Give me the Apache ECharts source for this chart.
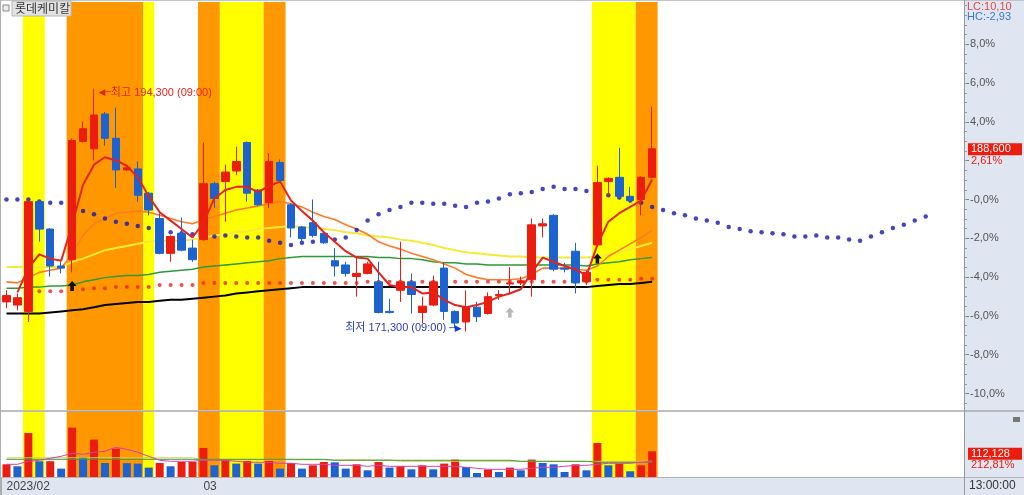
<!DOCTYPE html>
<html><head><meta charset="utf-8">
<script src="https://cdn.jsdelivr.net/npm/echarts@6/dist/echarts.min.js"></script>
<style>html,body{margin:0;padding:0;background:#fff}#c{width:1024px;height:495px}</style>
</head><body><div id="c"></div>
<script>
// ---------------- data ----------------
const stockName = '롯데케미칼';
const basePrice = 183800;           // 0% reference price
const slotCount = 88;               // visible category slots (incl. future area)
const monthLabels = [[0, '2023/02'], [18, '03']];
const pctTicks = [8, 6, 4, 2, 0, -2, -4, -6, -8, -10];
const hiddenPctLabels = [2];

const open = [174100,173800,173200,183600,181000,177500,178100,189300,188600,191900,
  189600,186600,186700,184400,182000,178700,180600,179200,180000,185300,
  185500,186500,189200,184700,183500,187300,183300,181200,181600,180600,
  178000,177600,176500,176800,176000,173200,175200,176000,173100,173800,
  177300,173200,172200,173600,173000,174700,175800,175900,176200,181300,
  182300,177300,178900,176000,179500,185500,185900,184100,183800,185900];
const close = [174700,174500,183600,181000,177500,177300,189400,190500,191800,189600,
  186600,186800,184200,182800,178700,180300,179000,178100,185300,183900,
  186400,187400,184400,183300,187400,185600,181100,180100,180400,179700,
  177500,176800,176800,177700,173100,173100,176000,174800,173700,176000,
  173200,172100,173600,172700,174600,174800,175900,176100,181400,181500,
  177200,177200,175900,176900,185400,185800,184100,183700,185900,188600];
const low = [173500,173300,172200,179800,176500,176800,176900,189200,187500,188900,
  184900,186500,183600,182300,178600,177900,178900,177900,179900,183000,
  181700,186100,183600,183200,183000,185500,180200,179700,180200,179600,
  176500,176500,174600,176700,173000,173000,174100,173000,172100,173700,
  172400,171600,171300,172200,172900,174300,174900,175700,174600,180200,
  177000,176900,174900,175700,179400,184200,183800,183500,182300,185800];
const high = [175200,174900,183700,183700,181100,177900,189600,191200,194300,192100,
  192500,187000,187400,184500,182500,180400,182100,180000,189200,185500,
  187100,188800,189300,184800,188200,187600,183400,181300,183800,180800,
  179200,177900,178300,177900,177900,174400,179800,176800,174600,176600,
  177800,173300,175200,174100,175000,175200,177400,176500,182000,182000,
  182400,177800,179700,177100,187000,185900,188700,185000,186000,192600];

const ma5 = [null,175000,177300,178600,178200,178000,181400,185200,187100,187800,
  187500,187000,185900,184100,182600,181800,181000,180200,181600,183900,
  184700,185000,185000,184500,185100,185500,183700,182700,181800,180700,
  179800,178900,178300,178200,176900,175700,175500,175500,174900,175000,
  174300,173800,173600,173800,174100,174600,174900,175300,176900,178300,
  177900,177500,177200,176600,179500,181700,182500,183100,183700,185700];
const ma10 = [176000,175900,176400,176900,177100,177300,178600,180400,181500,182000,
  182500,182600,182700,182600,182300,182000,181700,181500,181900,182200,
  182500,182800,183000,183200,183400,183600,183400,183100,182600,182200,
  181900,181400,181000,180500,179800,179400,179100,178700,178400,178100,
  177700,177300,176700,176400,176200,176200,176200,176300,176700,177300,
  177300,177300,177200,177100,177500,178400,179000,179600,180200,180900];
const ma20 = [177400,177400,177400,177400,177400,177400,177900,178200,178600,179000,
  179200,179400,179600,179800,179900,179900,179900,180000,180200,180400,
  180500,180700,180800,181000,181100,181200,181300,181200,181100,181000,
  180900,180700,180600,180400,180300,180200,180000,179900,179700,179500,
  179200,179000,178800,178700,178600,178500,178400,178400,178300,178300,
  178300,178300,178300,178300,178400,178600,178800,179100,179400,179700];
const ma60 = [175400,175400,175500,175500,175600,175600,175700,176000,176200,176400,
  176500,176600,176600,176700,176900,177000,177100,177200,177400,177500,
  177600,177700,177800,177900,178000,178200,178300,178400,178400,178400,
  178400,178400,178400,178400,178300,178300,178200,178200,178100,177900,
  177800,177800,177700,177700,177600,177600,177600,177600,177600,177600,
  177600,177600,177600,177500,177700,177800,177900,178100,178200,178300];
const ma120 = [173000,173000,173000,173000,173100,173200,173300,173400,173600,173800,
  173900,174000,174100,174100,174200,174300,174300,174400,174500,174600,
  174700,174900,175000,175100,175200,175300,175400,175500,175500,175500,
  175500,175500,175500,175500,175500,175500,175500,175500,175500,175500,
  175500,175500,175500,175500,175500,175500,175500,175500,175500,175500,
  175500,175500,175500,175500,175600,175700,175800,175800,175900,176000];
const redDots = [null,null,null,175100,175100,175100,175300,175300,175400,175400,
  175500,175500,175500,175500,175700,175700,175700,175700,175900,175900,
  175900,175900,175900,175900,175900,175900,175900,175900,175900,175900,
  175900,175900,175900,176000,176000,176000,176000,176000,176000,176000,
  176000,176000,176000,176000,176000,176000,176000,176000,176000,176000,
  176000,176000,176000,176000,176200,176200,176200,176200,176300,176300];
const blueDots = [183800,183800,183800,183600,183500,183500,183100,182700,182400,182000,
  181700,181500,181300,181100,180900,180700,180600,180500,180400,180300,
  180400,180300,180200,180200,179900,179700,179500,179700,179800,180000,
  180000,180200,180900,181800,182400,182800,183100,183500,183500,183400,
  183400,183200,183100,183500,183600,183900,184300,184400,184500,184800,
  185000,184800,184800,184600,184400,184200,184000,183700,183500,183100,
  182800,182500,182300,182000,181800,181600,181200,181000,180800,180700,
  180600,180500,180300,180300,180400,180200,180200,180000,179900,180300,
  180700,181100,181400,181800,182200];

const volume = [55400,46700,192000,68500,69000,36600,215500,87300,163200,61100,
  123900,60500,58500,41000,61100,46700,65400,66000,126500,51000,
  75900,58500,69800,58500,69800,36600,61100,36600,51000,65400,
  64000,36600,55400,29200,65400,41000,46700,33600,51000,33600,
  58500,75900,43600,17500,32300,21800,41000,29200,75900,61100,
  55400,21800,55400,29200,148300,51000,58500,24900,51000,112128];
const volMaA = [55400,55400,68500,72900,81600,90300,103400,99000,107800,112100,
  129600,120900,107800,90300,72900,68500,68500,68500,72900,72900,
  72900,68500,64100,64100,64100,59800,59800,55400,55400,55400,
  51000,51000,51000,46700,51000,46700,46700,46700,46700,46700,
  46700,46700,42300,38000,33600,33600,33600,33600,38000,42300,
  42300,46700,51000,51000,55400,59800,59800,59800,64100,68500];
const volMaB = [77200,77200,77200,77200,77200,77200,77200,77200,77200,77200,
  77200,77200,77200,77200,77200,77200,77200,77200,77200,77200,
  77200,77200,77200,77200,77200,77200,77200,77200,77200,77200,
  72900,72900,72900,72900,72900,72900,72900,72900,72900,72900,
  72900,72900,72900,72900,72900,72900,72900,68500,68500,68500,
  68500,68500,68500,68500,64100,64100,64100,64100,64100,64100];
const volMaC = [83800,83800,83800,83800,83800,83800,83800,83800,83800,83800,
  83800,83800,83800,83800,83800,83800,83800,83800,75000,75000,
  75000,75000,75000,75000,75000,75000,75000,75000,75000,75000,
  75000,75000,75000,75000,75000,75000,68500,68500,68500,68500,
  68500,68500,68500,68500,68500,68500,68500,68500,68500,68500,
  68500,68500,68500,68500,68500,68500,68500,68500,68500,68500];

// [startIndex, endIndex, kind]
const bands = [[2,3,'y'],[6,12,'o'],[13,13,'y'],[18,19,'o'],[20,23,'y'],[24,25,'o'],[54,57,'y'],[58,59,'o']];
const highMark = {index: 8, price: 194300, text: '최고 194,300 (09:00)'};
const lowMark = {index: 42, price: 171300, text: '최저 171,300 (09:00)'};
const signals = [[6, 175600, 'b'], [54, 178200, 'b'], [46, 173100, 'g']];
const lastPriceText = ['188,600', '2,61%'];
const lastVolText = ['112,128', '212,81%'];
const infoTexts = ['LC:10,10', 'HC:-2,93'];
const timeText = '13:00:00';

// ---------------- chart ----------------
const RED = '#ec1c0e', BLUE = '#1c62d0';
const FONT = "'Liberation Sans', 'Noto Sans CJK KR', sans-serif";
const bandColors = {y: '#ffff00', o: '#ff9800'};
const categories = Array.from({length: slotCount}, (_, i) => String(i));
const labelMap = {}; monthLabels.forEach(m => labelMap[m[0]] = m[1]);
const yMin = 163860, yMax = 202510, volMax = 288000;
const pctToPrice = p => basePrice * (1 + p / 100);
const majorVals = pctTicks.map(pctToPrice);
const labelVals = pctTicks.filter(p => hiddenPctLabels.indexOf(p) < 0).map(pctToPrice);
const minorVals = [];
for (let p = -10.5; p <= 10; p += 0.5) minorVals.push(pctToPrice(p));
const fmtPct = v => {
  const r = Math.round((v / basePrice - 1) * 1000) / 10;
  return (r <= 0 ? '-' : '') + Math.abs(r).toFixed(1).replace('.', ',') + '%';
};

function bandItem(params, api) {
  const b = bands[params.dataIndex];
  const w = api.size([1, 0])[0];
  const x0 = api.coord([b[0], 0])[0] - w / 2;
  const x1 = api.coord([b[1], 0])[0] + w / 2;
  const cs = params.coordSys;
  return {type: 'rect', shape: {x: x0, y: cs.y, width: x1 - x0, height: cs.height},
    style: {fill: bandColors[b[2]]}};
}
const arrowPath = 'path://M5,0 L10,5 L7,5 L7,10 L3,10 L3,5 L0,5 Z';
const hidden = 'rgba(0,0,0,0)';

const candleData = open.map((o, i) => [o, close[i], low[i], high[i]]);
const volData = volume.map((v, i) => ({
  value: v,
  itemStyle: {color: (i === 0 || v > volume[i - 1]) ? RED : BLUE}
}));
const tagRich = {
  a: {backgroundColor: RED, color: '#fff', fontSize: 11, width: 48, height: 12, lineHeight: 12,
    padding: [0, 3], fontFamily: FONT},
  b: {color: RED, fontSize: 11, lineHeight: 11, padding: [0, 0, 0, 3], fontFamily: FONT}
};
const arrowFont = "'DejaVu Sans', sans-serif";

const option = {
  animation: false,
  textStyle: {fontFamily: FONT},
  grid: [
    {left: 1, top: 2, width: 963, height: 408},
    {left: 1, top: 411, width: 963, height: 66}
  ],
  xAxis: [
    {type: 'category', gridIndex: 0, data: categories, boundaryGap: true,
      axisLine: {show: false}, axisTick: {show: false}, axisLabel: {show: false}, splitLine: {show: false}},
    {type: 'category', gridIndex: 1, data: categories, boundaryGap: true,
      axisLine: {show: false},
      axisTick: {show: true, alignWithLabel: false, length: 18,
        interval: (idx) => idx === 18, lineStyle: {color: '#a8a8a8'}},
      axisLabel: {show: true, interval: 0, align: 'left', margin: 4, color: '#444', fontSize: 12,
        formatter: (v, i) => labelMap[i] || ''},
      splitLine: {show: false}}
  ],
  yAxis: [
    {type: 'value', gridIndex: 0, position: 'right', min: yMin, max: yMax,
      axisLine: {show: true, lineStyle: {color: '#9a9a9a'}},
      splitLine: {show: false},
      axisTick: {show: true, customValues: majorVals, length: 5, lineStyle: {color: '#777'}},
      axisLabel: {show: true, customValues: labelVals, formatter: fmtPct, margin: 6,
        color: '#555', fontSize: 11, fontFamily: FONT}},
    {type: 'value', gridIndex: 1, position: 'right', min: 0, max: volMax,
      axisLine: {show: true, lineStyle: {color: '#9a9a9a'}},
      splitLine: {show: false}, axisTick: {show: false}, axisLabel: {show: false}},
    {type: 'value', gridIndex: 0, position: 'right', min: yMin, max: yMax,
      axisLine: {show: false}, splitLine: {show: false},
      axisTick: {show: true, customValues: minorVals, length: 3, lineStyle: {color: '#999'}},
      axisLabel: {show: false}}
  ],
  series: [
    {type: 'custom', xAxisIndex: 0, yAxisIndex: 0, renderItem: bandItem, silent: true, z: 0,
      data: bands.map(b => [b[0], b[1]])},
    {type: 'custom', xAxisIndex: 1, yAxisIndex: 1, renderItem: bandItem, silent: true, z: 0,
      data: bands.map(b => [b[0], b[1]])},
    {name: 'MA120', type: 'line', data: ma120, symbol: 'none', z: 3,
      lineStyle: {color: '#000', width: 2}},
    {name: 'MA60', type: 'line', data: ma60, symbol: 'none', z: 3,
      lineStyle: {color: '#2c9a35', width: 1.5}},
    {name: 'MA20', type: 'line', data: ma20, symbol: 'none', z: 3,
      lineStyle: {color: '#f4ea3a', width: 2}},
    {name: 'MA10', type: 'line', data: ma10, symbol: 'none', z: 3,
      lineStyle: {color: '#ff7a28', width: 1.6}},
    {name: 'redDots', type: 'scatter', data: redDots, symbol: 'circle', symbolSize: 4, z: 3,
      itemStyle: {color: '#e6281f'}},
    {name: 'blueDots', type: 'scatter', data: blueDots, symbol: 'circle', symbolSize: 4.5, z: 3,
      itemStyle: {color: '#1616b4'}},
    {name: 'price', type: 'candlestick', data: candleData, barWidth: 8, z: 4,
      itemStyle: {color: RED, color0: BLUE, borderColor: RED, borderColor0: BLUE, borderWidth: 1},
      markPoint: {
        silent: true,
        data: [
          {coord: [highMark.index, highMark.price], symbol: 'circle', symbolSize: 1,
            itemStyle: {color: hidden},
            label: {show: true, position: 'right', distance: 4, offset: [0, 4],
              formatter: '{ar|◀─}{t|' + highMark.text + '}',
              rich: {ar: {color: '#e3241c', fontSize: 9, fontFamily: arrowFont},
                t: {color: '#e3241c', fontSize: 11, fontFamily: FONT}}}},
          {coord: [lowMark.index, lowMark.price], symbol: 'circle', symbolSize: 1,
            itemStyle: {color: hidden},
            label: {show: true, position: 'left', distance: 4, offset: [0, -3],
              formatter: '{t|' + lowMark.text + ' }{ar|─▶}',
              rich: {ar: {color: '#1a3ad8', fontSize: 9, fontFamily: arrowFont},
                t: {color: '#2a3ab8', fontSize: 11, fontFamily: FONT}}}}
        ].concat(signals.map(s => ({
          coord: [s[0], s[1]], symbol: arrowPath, symbolSize: [9, 10],
          itemStyle: {color: s[2] === 'b' ? '#111' : '#b8b8b8'}, label: {show: false}
        })))
      },
      markLine: {
        silent: true, symbol: ['none', 'none'],
        lineStyle: {color: hidden, width: 0},
        data: [{yAxis: close[close.length - 1]}],
        label: {show: true, position: 'end', distance: 4, offset: [0, 6],
          formatter: '{a|' + lastPriceText[0] + '}\n{b|' + lastPriceText[1] + '}',
          rich: tagRich}
      }},
    {name: 'MA5', type: 'line', data: ma5, symbol: 'none', z: 5,
      lineStyle: {color: '#e5231b', width: 2}},
    {name: 'volume', type: 'bar', xAxisIndex: 1, yAxisIndex: 1, data: volData, barWidth: 8, z: 4,
      markLine: {
        silent: true, symbol: ['none', 'none'], lineStyle: {color: hidden, width: 0},
        data: [{yAxis: volume[volume.length - 1]}],
        label: {show: true, position: 'end', distance: 4, offset: [0, 8],
          formatter: '{a|' + lastVolText[0] + '}\n{b|' + lastVolText[1] + '}',
          rich: tagRich}
      }},
    {name: 'volMaC', type: 'line', xAxisIndex: 1, yAxisIndex: 1, data: volMaC, symbol: 'none', z: 5,
      lineStyle: {color: '#d6cc55', width: 1}},
    {name: 'volMaB', type: 'line', xAxisIndex: 1, yAxisIndex: 1, data: volMaB, symbol: 'none', z: 5,
      lineStyle: {color: '#3d9a3d', width: 1}},
    {name: 'volMaA', type: 'line', xAxisIndex: 1, yAxisIndex: 1, data: volMaA, symbol: 'none', z: 5,
      lineStyle: {color: '#d040b8', width: 1}}
  ],
  graphic: [
    {type: 'rect', z: -100, shape: {x: 965, y: 0, width: 59, height: 495}, style: {fill: '#dfe6f1'}},
    {type: 'rect', z: -100, shape: {x: 0, y: 477, width: 1024, height: 18}, style: {fill: '#dfe6f1'}},
    {type: 'line', z: 50, shape: {x1: 0, y1: 0.5, x2: 1024, y2: 0.5}, style: {stroke: '#c4c4c4', lineWidth: 1}},
    {type: 'line', z: 50, shape: {x1: 0.5, y1: 0, x2: 0.5, y2: 495}, style: {stroke: '#b0b0b0', lineWidth: 1}},
    {type: 'line', z: 50, shape: {x1: 0, y1: 411, x2: 1024, y2: 411}, style: {stroke: '#a8a8a8', lineWidth: 1.5}},
    {type: 'line', z: 50, shape: {x1: 0, y1: 477.5, x2: 1024, y2: 477.5}, style: {stroke: '#b4b4b4', lineWidth: 1}},
    {type: 'line', z: 50, shape: {x1: 964.5, y1: 0, x2: 964.5, y2: 495}, style: {stroke: '#9a9a9a', lineWidth: 1}},
    {type: 'rect', z: 60, shape: {x: 3, y: 5, width: 6, height: 6}, style: {fill: '#eee', stroke: '#888', lineWidth: 1}},
    {type: 'rect', z: 60, shape: {x: 12, y: 1, width: 59, height: 15}, style: {fill: '#e2e2e2', stroke: '#b8b8b8', lineWidth: 1}},
    {type: 'text', z: 61, x: 15, y: 2, style: {text: stockName, fill: '#333', font: "12px 'Noto Sans CJK KR', sans-serif"}},
    {type: 'text', z: 61, x: 967, y: 1, style: {text: infoTexts[0], fill: '#e04848', font: '11px ' + FONT}},
    {type: 'text', z: 61, x: 967, y: 11, style: {text: infoTexts[1], fill: '#3a78c8', font: '11px ' + FONT}},
    {type: 'rect', z: 61, shape: {x: 1013, y: 417, width: 7, height: 5}, style: {fill: '#777'}},
    {type: 'text', z: 61, x: 969, y: 480, style: {text: timeText, fill: '#333', font: '12px ' + FONT}}
  ]
};
const chart = echarts.init(document.getElementById('c'));
chart.setOption(option);
</script>
</body></html>
